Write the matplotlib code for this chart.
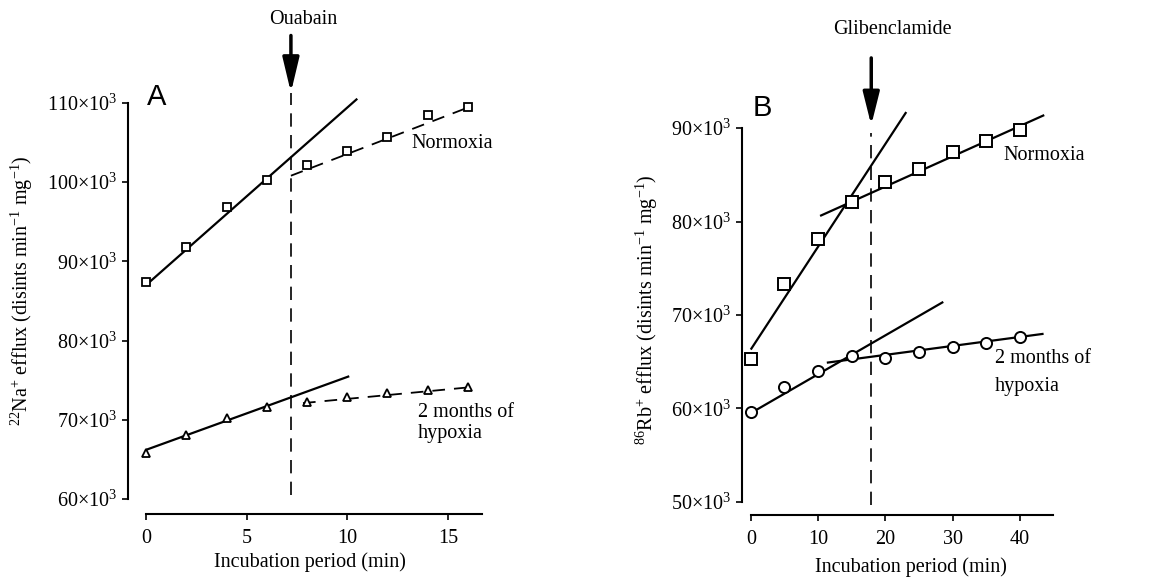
import matplotlib
matplotlib.use("Agg")
import matplotlib.pyplot as plt
import numpy as np

plt.rcParams['font.family'] = ['Liberation Serif', 'DejaVu Serif']
plt.rcParams['mathtext.fontset'] = 'custom'
plt.rcParams['mathtext.rm'] = 'Liberation Serif'
plt.rcParams['mathtext.it'] = 'Liberation Serif:italic'
plt.rcParams['mathtext.default'] = 'rm'

# ---------------- data (values in units of 10^3 disints min-1 mg-1) -------------
A_time = [0, 2, 4, 6, 8, 10, 12, 14, 16]
A_normoxia = [87.4, 91.8, 96.9, 100.3, 102.2, 103.9, 105.7, 108.5, 109.5]
A_hypoxia = [65.8, 68.1, 70.2, 71.6, 72.2, 72.9, 73.4, 73.8, 74.1]
# regression lines: (x_start, x_end, intercept, slope)
A_norm_fit_pre = (0.0, 10.5, 87.0, 2.24)
A_norm_fit_post = (7.2, 16.1, 93.76, 0.978)
A_hyp_fit_pre = (0.0, 10.1, 66.2, 0.92)
A_hyp_fit_post = (7.8, 16.1, 70.22, 0.241)
A_ouabain_time = 7.2

B_time = [0, 5, 10, 15, 20, 25, 30, 35, 40]
B_normoxia = [65.3, 73.3, 78.1, 82.1, 84.2, 85.6, 87.4, 88.6, 89.8]
B_hypoxia = [59.6, 62.3, 64.0, 65.6, 65.4, 66.0, 66.6, 67.0, 67.6]
B_norm_fit_pre = (0.0, 23.1, 66.3, 1.10)
B_norm_fit_post = (10.3, 43.6, 77.26, 0.324)
B_hyp_fit_pre = (0.0, 28.6, 59.5, 0.416)
B_hyp_fit_post = (11.3, 43.5, 63.81, 0.096)
B_glib_time = 17.9

A_yticks = [60, 70, 80, 90, 100, 110]
A_xticks = [0, 5, 10, 15]
B_yticks = [50, 60, 70, 80, 90]
B_xticks = [0, 10, 20, 30, 40]


def ylab(v):
    return f"{v}×10$^{{3}}$"


def fitline(ax, fit, **kw):
    x0, x1, b, m = fit
    xs = np.array([x0, x1])
    ax.plot(xs, b + m * xs, color='black', **kw)


W, H = 1161, 581
fig = plt.figure(figsize=(W / 100, H / 100), dpi=100)

FS = 14.5


def style(ax, ybounds, xbounds):
    for s in ['top', 'right']:
        ax.spines[s].set_visible(False)
    ax.spines['left'].set_bounds(*ybounds)
    ax.spines['bottom'].set_bounds(*xbounds)
    ax.spines['left'].set_linewidth(1.5)
    ax.spines['bottom'].set_linewidth(1.5)
    ax.tick_params(axis='y', direction='out', length=4.5, width=1.2, pad=3, labelsize=FS)
    ax.tick_params(axis='x', direction='out', length=4.5, width=1.2, pad=6, labelsize=FS)
    ax.set_facecolor('none')


# ---------------- Panel A ----------------
axA = fig.add_axes([128 / W, (H - 514) / H, (482 - 128) / W, (514 - 87) / H])
axA.set_xlim(-0.9, 16.7)
axA.set_ylim(58.1, 112.0)
style(axA, (60, 110), (0, 16.7))
axA.set_yticks(A_yticks, [ylab(v) for v in A_yticks])
axA.set_xticks(A_xticks, [str(v) for v in A_xticks])

fitline(axA, A_norm_fit_pre, lw=1.6, solid_capstyle='butt')
fitline(axA, A_norm_fit_post, lw=1.3, dashes=(7, 5))
fitline(axA, A_hyp_fit_pre, lw=1.6, solid_capstyle='butt')
fitline(axA, A_hyp_fit_post, lw=1.3, dashes=(7, 5))
axA.plot(A_time, A_normoxia, ls='none', marker='s', ms=6, mfc='white', mec='black', mew=1.3)
axA.plot(A_time, A_hypoxia, ls='none', marker='^', ms=6, mfc='white', mec='black', mew=1.3)

axA.plot([A_ouabain_time, A_ouabain_time], [60.5, 111.3], color='black', lw=1.2,
         dashes=(8, 5), clip_on=False)
axA.annotate('', xy=(A_ouabain_time, 111.3), xytext=(A_ouabain_time, 118.5),
             arrowprops=dict(arrowstyle='-|>,head_length=2.1,head_width=0.5',
                             mutation_scale=10, lw=2.5, color='black',
                             shrinkA=0, shrinkB=0),
             annotation_clip=False)
axA.text(7.8, 120.5, 'Ouabain', ha='center', va='center', fontsize=FS, clip_on=False)
axA.text(0.05, 110.8, 'A', ha='left', va='center', fontsize=21,
         family=['Liberation Sans', 'DejaVu Sans'], clip_on=False)
axA.text(13.2, 104.9, 'Normoxia', ha='left', va='center', fontsize=FS)
axA.text(13.5, 70.9, '2 months of', ha='left', va='center', fontsize=FS, clip_on=False)
axA.text(13.5, 68.2, 'hypoxia', ha='left', va='center', fontsize=FS, clip_on=False)

fig.text(310 / W, 1 - 562 / H, 'Incubation period (min)', ha='center', va='center', fontsize=FS)
fig.text(22 / W, 1 - 291 / H, '$^{22}$Na$^{+}$ efflux (disints min$^{-1}$ mg$^{-1}$)',
         ha='center', va='center', rotation=90, fontsize=FS)

# ---------------- Panel B ----------------
axB = fig.add_axes([742 / W, (H - 515) / H, (1053 - 742) / W, (515 - 81.3) / H])
axB.set_xlim(-1.3, 44.9)
axB.set_ylim(48.6, 95.0)
style(axB, (50, 90), (0, 44.9))
axB.set_yticks(B_yticks, [ylab(v) for v in B_yticks])
axB.set_xticks(B_xticks, [str(v) for v in B_xticks])

fitline(axB, B_norm_fit_pre, lw=1.6, solid_capstyle='butt')
fitline(axB, B_norm_fit_post, lw=1.6, solid_capstyle='butt')
fitline(axB, B_hyp_fit_pre, lw=1.6, solid_capstyle='butt')
fitline(axB, B_hyp_fit_post, lw=1.6, solid_capstyle='butt')
axB.plot(B_time, B_normoxia, ls='none', marker='s', ms=9, mfc='white', mec='black', mew=1.4)
axB.plot(B_time, B_hypoxia, ls='none', marker='o', ms=8, mfc='white', mec='black', mew=1.4)

axB.plot([B_glib_time, B_glib_time], [49.7, 89.5], color='black', lw=1.2,
         dashes=(8, 5), clip_on=False)
axB.annotate('', xy=(B_glib_time, 90.3), xytext=(B_glib_time, 97.5),
             arrowprops=dict(arrowstyle='-|>,head_length=2.0,head_width=0.5',
                             mutation_scale=10, lw=2.5, color='black',
                             shrinkA=0, shrinkB=0),
             annotation_clip=False)
axB.text(21.1, 100.5, 'Glibenclamide', ha='center', va='center', fontsize=FS, clip_on=False)
axB.text(0.3, 92.1, 'B', ha='left', va='center', fontsize=21,
         family=['Liberation Sans', 'DejaVu Sans'], clip_on=False)
axB.text(37.6, 87.1, 'Normoxia', ha='left', va='center', fontsize=FS, clip_on=False)
axB.text(36.3, 65.3, '2 months of', ha='left', va='center', fontsize=FS, clip_on=False)
axB.text(36.3, 62.4, 'hypoxia', ha='left', va='center', fontsize=FS, clip_on=False)

fig.text(911 / W, 1 - 567 / H, 'Incubation period (min)', ha='center', va='center', fontsize=FS)
fig.text(647 / W, 1 - 310 / H, '$^{86}$Rb$^{+}$ efflux (disints min$^{-1}$ mg$^{-1}$)',
         ha='center', va='center', rotation=90, fontsize=FS)

fig.savefig('out.png', dpi=100)
